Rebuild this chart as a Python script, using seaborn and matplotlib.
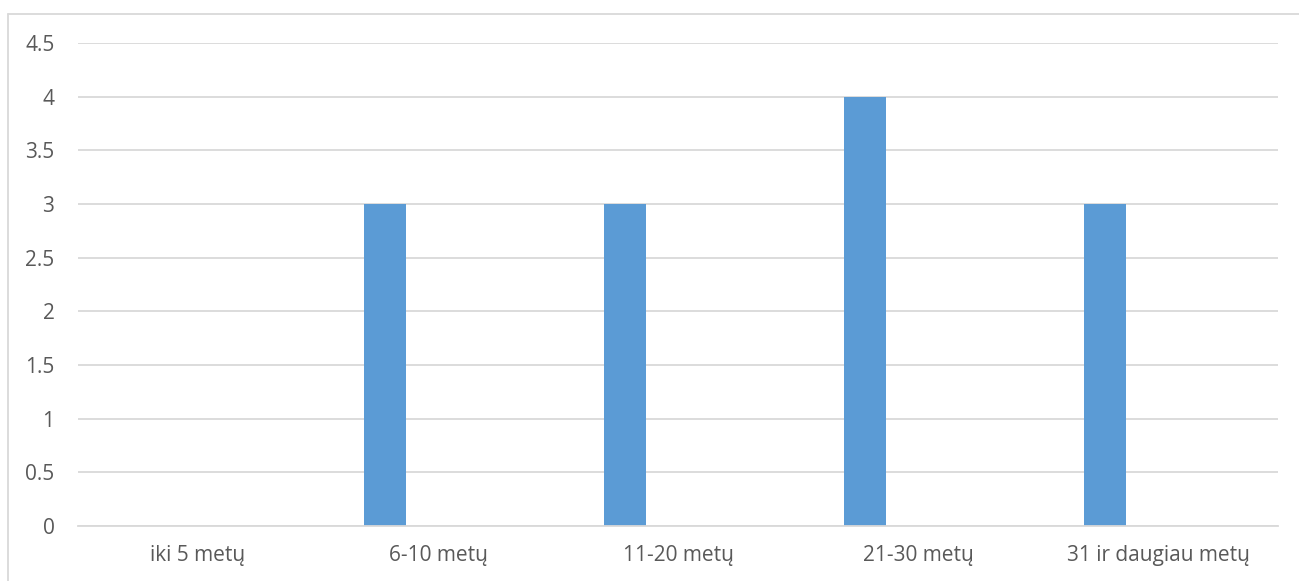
import matplotlib
matplotlib.use("Agg")
import matplotlib.pyplot as plt
import matplotlib.lines as mlines
import seaborn as sns
import pandas as pd

# Work experience groups and respondent counts (three series, only the first filled)
categories = ["iki 5 metų", "6-10 metų", "11-20 metų", "21-30 metų", "31 ir daugiau metų"]
series_names = ["Series1", "Series2", "Series3"]
series1 = [0, 3, 3, 4, 3]
series2 = [0, 0, 0, 0, 0]
series3 = [0, 0, 0, 0, 0]
y_ticks = [0, 0.5, 1, 1.5, 2, 2.5, 3, 3.5, 4, 4.5]

rows = []
for name, vals in zip(series_names, [series1, series2, series3]):
    for cat, v in zip(categories, vals):
        rows.append({"category": cat, "series": name, "value": v})
df = pd.DataFrame(rows)

sns.set_theme(style="white")
plt.rcParams["font.family"] = ["Open Sans", "DejaVu Sans"]

W, H = 1299, 581
fig = plt.figure(figsize=(W / 100, H / 100), dpi=100)
ax = fig.add_axes([78 / W, (H - 526) / H, 1200 / W, (526 - 43) / H])

bar_color = "#5B9BD5"
sns.barplot(
    data=df, x="category", y="value", hue="series", order=categories,
    hue_order=series_names, palette=[bar_color, "#ED7D31", "#A5A5A5"],
    width=0.667, gap=0.213, saturation=1, legend=False, ax=ax,
    edgecolor="none", linewidth=0,
)

ax.set_xlim(-0.5, len(categories) - 0.5)
ax.set_ylim(0, 4.5)
ax.set_yticks(y_ticks)
ax.set_yticklabels([f"{t:g}" for t in y_ticks])
ax.yaxis.grid(True, color="#D9D9D9", linewidth=1.3)
ax.set_axisbelow(True)
for side in ["top", "right", "left"]:
    ax.spines[side].set_visible(False)
ax.spines["bottom"].set_color("#D9D9D9")
ax.spines["bottom"].set_linewidth(1.3)
ax.set_xlabel("")
ax.set_ylabel("")
ax.tick_params(axis="both", length=0, labelsize=15, colors="#595959")
ax.tick_params(axis="y", pad=17)
ax.tick_params(axis="x", pad=14)

# Chart area outline (left and top edges)
fig.add_artist(mlines.Line2D([7.5 / W, 7.5 / W], [0, (H - 13.5) / H], color="#D9D9D9", linewidth=1.3))
fig.add_artist(mlines.Line2D([7.5 / W, 1], [(H - 13.5) / H, (H - 13.5) / H], color="#D9D9D9", linewidth=1.3))

fig.savefig("out.png", dpi=100, facecolor="white")
